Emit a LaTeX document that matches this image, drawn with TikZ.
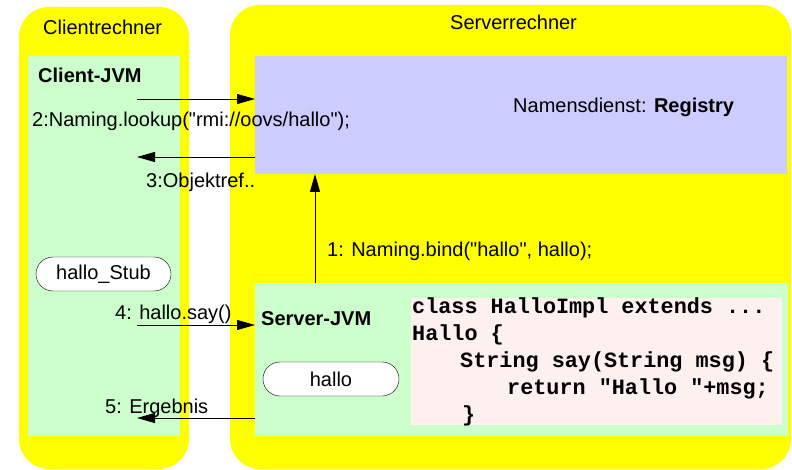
\documentclass[tikz,border=0pt]{standalone}
\usepackage{fontspec}
\setmainfont{Liberation Sans}
\setmonofont{Liberation Mono}
\usetikzlibrary{arrows.meta,positioning}
\definecolor{rechner}{HTML}{FFFF00}
\definecolor{jvm}{HTML}{CCFFCC}
\definecolor{registry}{HTML}{CCCCFF}
\definecolor{codebg}{HTML}{FFF0F0}

\begin{document}
\begin{tikzpicture}[x=1pt, y=-1pt,
  box/.style={inner sep=0pt, outer sep=0pt},
  rechnerbox/.style={box, fill=rechner, rounded corners=30pt},
  jvmbox/.style={box, fill=jvm},
  objbox/.style={draw, fill=white, rounded corners=17pt, minimum width=136pt, minimum height=34pt, inner sep=0pt, font=\fontsize{20}{24}\selectfont},
  lbl/.style={inner sep=0pt, anchor=base west, font=\fontsize{20}{24}\selectfont},
  msg/.style={-{Triangle[length=18pt,width=10pt]}, line width=0.8pt}]
\useasboundingbox (0,0) rectangle (792,470);

% Rechner
\node[rechnerbox, minimum width=170pt, minimum height=462pt] (client) at (104,238) {};
\node[rechnerbox, minimum width=561pt, minimum height=464pt] (server) at (510.5,237) {};
\node[lbl] (clienttitle) at (43,35) {Clientrechner};
\node[lbl] (servertitle) at (450,30) {Serverrechner};

% JVMs
\node[jvmbox, minimum width=152pt, minimum height=380pt] (clientjvm) at (104,246) {};
\node[box, fill=registry, minimum width=532pt, minimum height=118pt] (reg) at (521,115) {};
\node[jvmbox, minimum width=533pt, minimum height=153pt] (serverjvm) at (521.5,359.5) {};
\node[box, fill=codebg, minimum width=371pt, minimum height=127pt] (code) at (596.5,361.5) {};

\node[lbl, font=\fontsize{20}{24}\selectfont\bfseries] (clientjvmtitle) at (38,83) {Client-JVM};
\node[lbl, font=\fontsize{20}{24}\selectfont\bfseries] (serverjvmtitle) at (261,325) {Server-JVM};
\node[lbl] (regtitle) at (513,113) {Namensdienst: \textbf{Registry}};

% Objekte
\node[objbox, minimum width=135pt] (stub) at (103.5,274) {hallo\_Stub};
\node[objbox] (hallo) at (331,379) {hallo};

% Code
\node[inner sep=0pt, anchor=north west, align=left,
  font=\fontsize{21.8}{27}\selectfont\ttfamily\bfseries] (impl) at (412,298)
  {class HalloImpl extends ...\\
   Hallo \{\\
   \hspace*{48pt}String say(String msg) \{\\
   \hspace*{95pt}return \textquotedbl Hallo \textquotedbl+msg;\\
   \hspace*{50pt}\}};

% Nachrichten
\coordinate (l2) at (137,99);
\coordinate (l3) at (137,157);
\coordinate (l4) at (137,325);
\coordinate (l5) at (137,418);
\coordinate (l1) at (315,0);
\draw[msg] (l1 |- serverjvm.north) -- (l1 |- reg.south);
\draw[msg] (l2) -- (l2 -| reg.west);
\draw[msg] (l3 -| reg.west) -- (l3);
\draw[msg] (l4) -- (l4 -| serverjvm.west);
\draw[msg] (l5 -| serverjvm.west) -- (l5);

\node[lbl] (bind) at (327,257) {1: Naming.bind(\textquotedbl hallo\textquotedbl, hallo);};
\node[lbl] (lookup) at (32,127) {2:Naming.lookup(\textquotedbl rmi://oovs/hallo\textquotedbl);};
\node[lbl] (objref) at (146,188) {3:Objektref..};
\node[lbl] (say) at (115,319) {4: hallo.say()};
\node[lbl] (result) at (105,413) {5: Ergebnis};
\end{tikzpicture}
\end{document}
